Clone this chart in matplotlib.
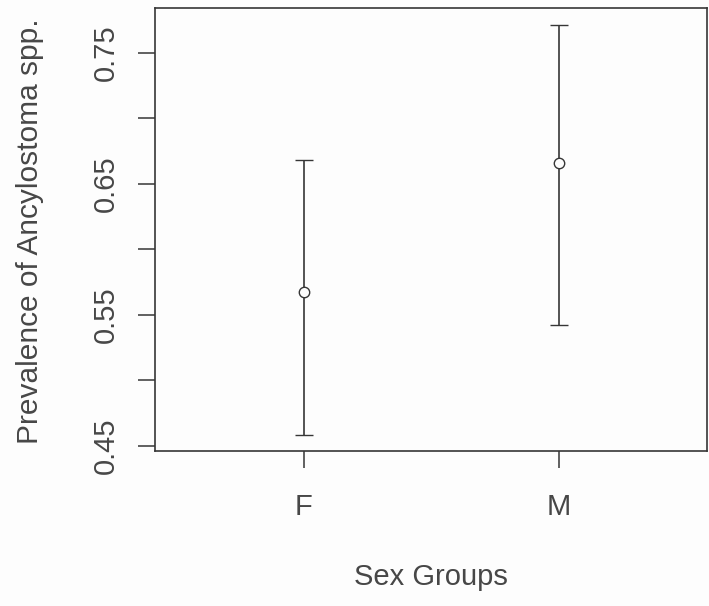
import matplotlib
matplotlib.use("Agg")
import matplotlib.pyplot as plt
import numpy as np

groups = ["F", "M"]
prevalence = [0.567, 0.666]
ci_lower = [0.458, 0.542]
ci_upper = [0.668, 0.771]
y_ticks = [0.45, 0.55, 0.65, 0.75]
y_minor = [0.50, 0.60, 0.70]

plt.rcParams["font.family"] = ["Liberation Sans", "DejaVu Sans"]
ink = "#363636"
text_col = "#474747"

fig = plt.figure(figsize=(7.09, 6.06), dpi=100, facecolor="#fdfdfd")
W, H = 709, 606
left, right, top, bottom = 155, 707, 7.5, 450.5
ax = fig.add_axes([left / W, 1 - bottom / H, (right - left) / W, (bottom - top) / H])
ax.set_facecolor("#fdfdfd")

x = np.arange(1, len(groups) + 1)
y = np.array(prevalence)
yerr = np.vstack([y - np.array(ci_lower), np.array(ci_upper) - y])
ax.errorbar(x, y, yerr=yerr, fmt="o", color=ink, ecolor=ink, elinewidth=1.2,
            capsize=6.2, capthick=1.2, markersize=7.5, markerfacecolor="#fdfdfd",
            markeredgecolor=ink, markeredgewidth=1.0, zorder=3)

ax.set_xlim(0.416, 2.58)
ax.set_ylim(0.4462, 0.7844)

ax.set_xticks(x)
ax.set_xticklabels(groups)
ax.set_yticks(y_ticks + y_minor)
ax.set_yticklabels([f"{v:.2f}" for v in y_ticks] + ["" for _ in y_minor])
for lab in ax.get_yticklabels():
    lab.set_rotation(90)
    lab.set_va("center")

ax.tick_params(axis="both", direction="out", length=12.5, width=1.1, color=ink,
               labelcolor=text_col, labelsize=21)
ax.tick_params(axis="x", pad=18)
ax.tick_params(axis="y", pad=12.5)

for s in ax.spines.values():
    s.set_color(ink)
    s.set_linewidth(1.2)

ax.set_xlabel("Sex Groups", fontsize=21, color=text_col)
ax.xaxis.set_label_coords(0.5, -(563 - bottom) / (bottom - top))
ax.set_ylabel("Prevalence of Ancylostoma spp.", fontsize=21.5, color=text_col)
ax.yaxis.set_label_coords(-(left - 44) / (right - left), 0.495)

fig.savefig("out.png", dpi=100, facecolor=fig.get_facecolor())
